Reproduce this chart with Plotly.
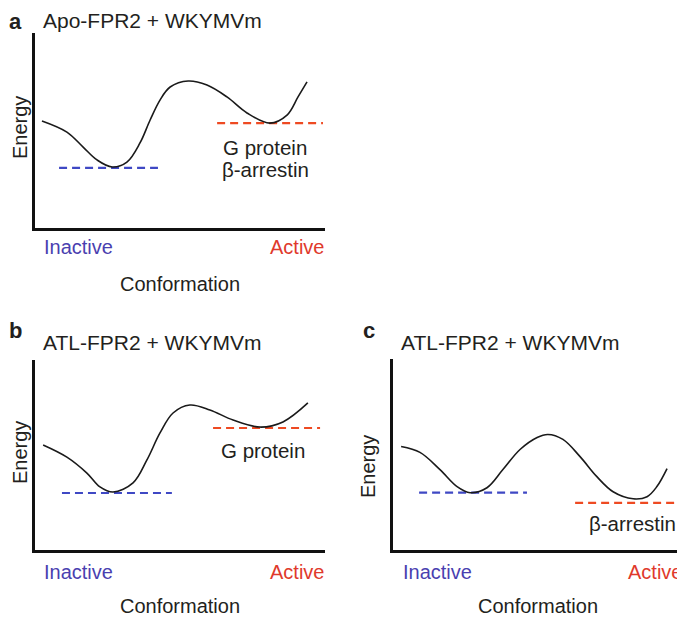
import plotly.graph_objects as go

# The page body adds an 8px margin, so the figure is drawn 8px in from the window corner.
OFF = 8
W, H = 685 - OFF, 617 - OFF

# ---- data (abstract units: conformation 0-10, energy 0-10) ----
a_x = [0.24, 1.10, 1.66, 2.14, 2.66, 3.17, 3.62, 3.97, 4.31, 4.66, 5.28, 5.93, 6.62, 7.31, 8.10, 8.69, 9.07, 9.38]
a_y = [5.49, 4.92, 4.15, 3.49, 3.13, 3.38, 4.36, 5.54, 6.56, 7.23, 7.54, 7.33, 6.72, 5.90, 5.38, 5.79, 6.72, 7.49]
a_inactive_x = [0.83, 4.24]
a_inactive_y = [3.08, 3.08]
a_active_x = [6.28, 9.93]
a_active_y = [5.38, 5.38]

b_x = [0.28, 1.10, 1.79, 2.24, 2.69, 3.38, 3.86, 4.31, 4.76, 5.34, 6.03, 6.83, 7.76, 8.55, 9.41]
b_y = [5.53, 4.89, 4.05, 3.32, 3.05, 3.53, 4.74, 6.16, 7.21, 7.63, 7.37, 6.84, 6.47, 6.74, 7.74]
b_inactive_x = [0.93, 4.72]
b_inactive_y = [3.0, 3.0]
b_active_x = [6.14, 9.83]
b_active_y = [6.42, 6.42]

c_x = [0.28, 0.93, 1.62, 2.21, 2.66, 3.24, 3.79, 4.38, 4.97, 5.34, 5.86, 6.45, 7.03, 7.59, 8.28, 8.76, 9.10, 9.45]
c_y = [5.42, 5.11, 4.21, 3.32, 3.00, 3.26, 4.21, 5.26, 5.89, 6.05, 5.79, 4.89, 3.84, 3.05, 2.68, 2.79, 3.32, 4.26]
c_inactive_x = [0.90, 4.62]
c_inactive_y = [3.0, 3.0]
c_active_x = [6.28, 10.0]
c_active_y = [2.47, 2.47]

titles = ["Apo-FPR2 + WKYMVm", "ATL-FPR2 + WKYMVm", "ATL-FPR2 + WKYMVm"]
letters = ["a", "b", "c"]

FONT = "Liberation Sans, Arial, sans-serif"
TXT = "#231f20"
BLUE_LINE = "#3f48c4"
RED_LINE = "#ee4a22"
BLUE_TXT = "#4a3fb0"
RED_TXT = "#e0392c"


def px(x):
    return (x - OFF) / W


def py(y):
    return 1 - (y - OFF) / H


fig = go.Figure()

panels = [
    dict(ax="", x=a_x, y=a_y, ix=a_inactive_x, iy=a_inactive_y, acx=a_active_x, acy=a_active_y,
         xd=(35, 325), yd=(33, 228)),
    dict(ax="2", x=b_x, y=b_y, ix=b_inactive_x, iy=b_inactive_y, acx=b_active_x, acy=b_active_y,
         xd=(35, 325), yd=(360, 550)),
    dict(ax="3", x=c_x, y=c_y, ix=c_inactive_x, iy=c_inactive_y, acx=c_active_x, acy=c_active_y,
         xd=(393, 683), yd=(359, 550)),
]

for p in panels:
    xa, ya = "x" + p["ax"], "y" + p["ax"]
    fig.add_trace(go.Scatter(x=p["ix"], y=p["iy"], mode="lines", xaxis=xa, yaxis=ya,
                             line=dict(color=BLUE_LINE, width=2.2, dash="8px,5px")))
    fig.add_trace(go.Scatter(x=p["acx"], y=p["acy"], mode="lines", xaxis=xa, yaxis=ya,
                             line=dict(color=RED_LINE, width=2.2, dash="8px,5px")))
    fig.add_trace(go.Scatter(x=p["x"], y=p["y"], mode="lines", xaxis=xa, yaxis=ya,
                             line=dict(color="#1a1a1a", width=1.6, shape="spline", smoothing=1.0)))
    axis_common = dict(showgrid=False, zeroline=False, showticklabels=False, ticks="",
                       showline=True, linecolor="#111111", linewidth=2.5, range=[0, 10],
                       fixedrange=True)
    fig.layout["xaxis" + p["ax"]] = dict(axis_common, domain=[px(p["xd"][0]), min(1, px(p["xd"][1]))],
                                          anchor=ya)
    fig.layout["yaxis" + p["ax"]] = dict(axis_common, domain=[py(p["yd"][1]), py(p["yd"][0])],
                                          anchor=xa)

ann = []


def text(t, x, y, size=20, color=TXT, xanchor="center", yanchor="middle", bold=False, angle=0):
    if bold:
        t = "<b>" + t + "</b>"
    ann.append(dict(text=t, x=x if isinstance(x, float) and x <= 1 and False else px(x),
                    y=py(y), xref="paper", yref="paper", showarrow=False,
                    xanchor=xanchor, yanchor=yanchor, textangle=angle, borderpad=0,
                    font=dict(family=FONT, size=size, color=color)))


# Panel a (items near the window's top-left corner are kept just inside the figure)
text(letters[0], OFF, OFF, size=22, xanchor="left", yanchor="top", bold=True)
text(titles[0], 42, OFF, size=21, xanchor="left", yanchor="top")
text("Energy", OFF, 128, xanchor="left", angle=-90)
text("Inactive", 78, 247, color=BLUE_TXT)
text("Active", 297, 247, color=RED_TXT)
text("Conformation", 180, 284)
text("G protein", 265, 147, size=20.5)
text("β-arrestin", 265, 169, size=20.5)

# Panel b
text(letters[1], OFF, 330, size=22, xanchor="left", bold=True)
text(titles[1], 42, 342, size=21, xanchor="left")
text("Energy", OFF, 453, xanchor="left", angle=-90)
text("Inactive", 78, 572, color=BLUE_TXT)
text("Active", 297, 572, color=RED_TXT)
text("Conformation", 180, 606)
text("G protein", 263, 450, size=20.5)

# Panel c
text(letters[2], 362, 330, size=22, xanchor="left", bold=True)
text(titles[2], 400, 342, size=21, xanchor="left")
text("Energy", 368, 467, angle=-90)
text("Inactive", 437, 572, color=BLUE_TXT)
text("Active", 655, 572, color=RED_TXT)
text("Conformation", 538, 606)
text("β-arrestin", 632, 523, size=20.5)

fig.update_layout(width=W, height=H, margin=dict(l=0, r=0, t=0, b=0),
                  paper_bgcolor="white", plot_bgcolor="white", showlegend=False,
                  annotations=ann)

fig.write_html("out.html")
